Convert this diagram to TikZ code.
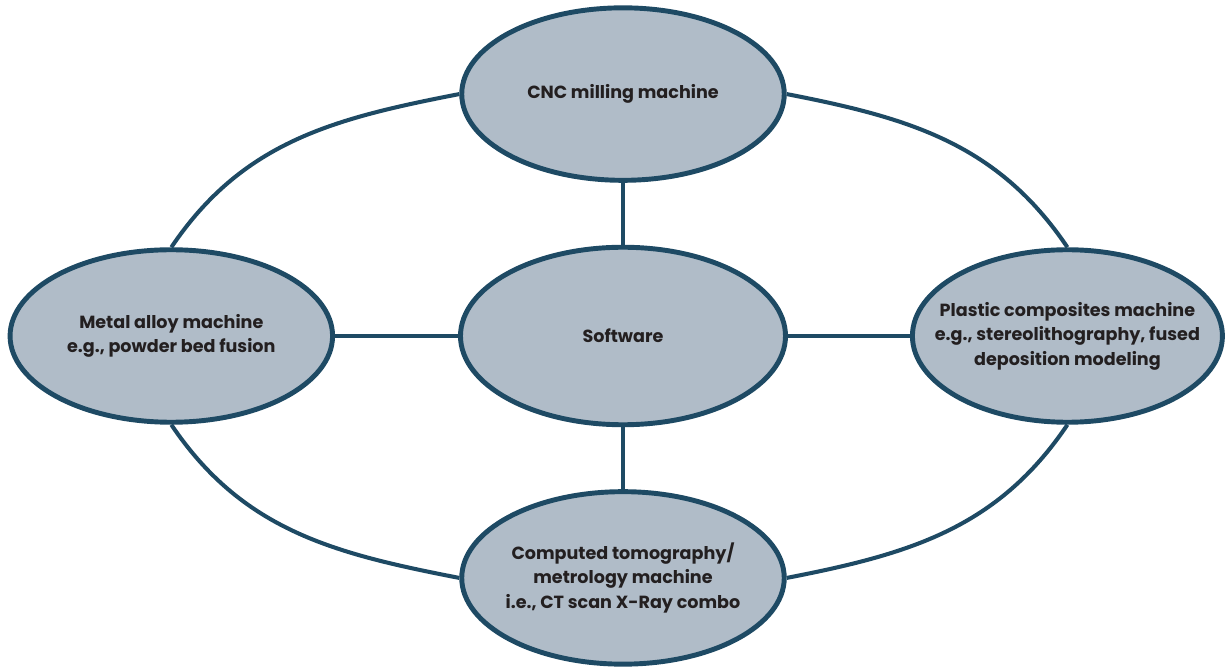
\documentclass[tikz,border=0pt]{standalone}
\usepackage{fontspec}
\setmainfont{Poppins}
\usepackage{tikz}
\usetikzlibrary{positioning,shapes.geometric}
\definecolor{ringBlue}{RGB}{30,74,100}
\definecolor{nodeGrey}{RGB}{176,188,200}
\definecolor{textDark}{RGB}{35,31,32}

\begin{document}
\begin{tikzpicture}[
    machine/.style={ellipse, draw=ringBlue, fill=nodeGrey, line width=2.8pt,
      inner xsep=-0.6cm, inner ysep=0pt, minimum width=6.45cm, minimum height=3.45cm,
      align=center, text=textDark, font=\bfseries\fontsize{10}{13.9}\selectfont},
    link/.style={ringBlue, line width=2.6pt},
    ring/.style={ringBlue, line width=2.3pt}
  ]
    \useasboundingbox (-12.46,-6.68) rectangle (12.08,6.72);
    % hub in the middle
    \node[machine, minimum width=6.5cm, minimum height=3.55cm] (soft) at (0,0) {Software};
    % the four machines round it
    \node[machine, above=1.24cm of soft] (cnc) {CNC milling machine};
    \node[machine, below=1.24cm of soft] (ct)
      {Computed tomography/\\metrology machine\\i.e., CT scan X-Ray combo};
    \node[machine, left=2.46cm of soft] (metal)
      {Metal alloy machine\\e.g., powder bed fusion};
    \node[machine, right=2.44cm of soft, minimum width=6.2cm] (plastic)
      {Plastic composites machine\\e.g., stereolithography, fused\\deposition modeling};
    % spokes
    \draw[link] (soft) -- (cnc);
    \draw[link] (soft) -- (ct);
    \draw[link] (soft) -- (metal);
    \draw[link] (soft) -- (plastic);
    % outer ring
    \draw[ring] (cnc.west) to[out=191, in=56] (metal.north);
    \draw[ring] (metal.south) to[out=-56, in=169] (ct.west);
    \draw[ring] (ct.east) to[out=11, in=236] (plastic.south);
    \draw[ring] (plastic.north) to[out=124, in=-11] (cnc.east);
  \end{tikzpicture}
\end{document}
